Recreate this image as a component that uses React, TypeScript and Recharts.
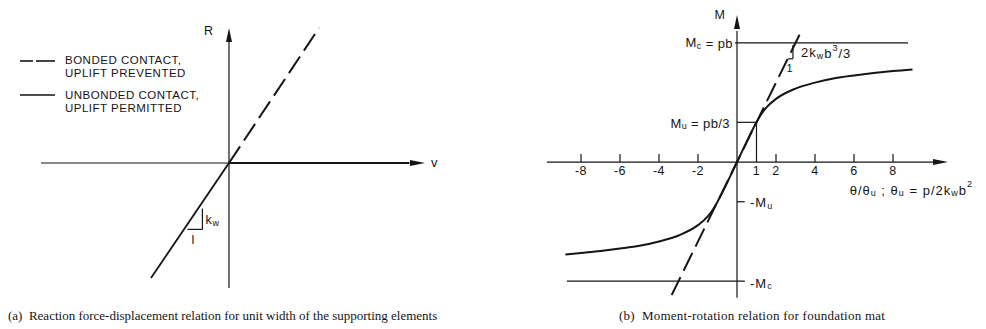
import React from 'react';
import { ComposedChart, Line, XAxis, YAxis, ReferenceLine, ReferenceDot } from 'recharts';

// (a) reaction force R vs displacement v (arbitrary units)
const bondedV = [0, 4.5];
const bondedR = [0, 6.75];
const unbondedV = [-3.9, 0, 9];
const unbondedR = [-5.75, 0, 0];

// (b) moment M/Mu vs rotation theta/theta_u
const thetaTicks = [-8, -6, -4, -2, 2, 4, 6, 8];
const thetaLabelAt = [-8, -6, -4, -2, 1, 2, 4, 6, 8];
const thetaLabels = ['-8', '-6', '-4', '-2', '1', '2', '4', '6', '8'];
const curveTheta = [-8.8, -8, -7, -6, -5, -4, -3, -2, -1.5, -1.25, -1, 0, 1, 1.25, 1.5, 2, 3, 4, 5, 6, 7, 8, 9];
const curveM = [-2.33, -2.29, -2.24, -2.18, -2.11, -2.0, -1.85, -1.59, -1.37, -1.21, -1, 0, 1, 1.21, 1.37, 1.59, 1.85, 2.0, 2.11, 2.18, 2.24, 2.29, 2.33];
const rigidTheta = [-3.35, 3.35];
const rigidM = [-3.35, 3.35];
const mC = 3;
const mU = 1;

const zip = (xs: number[], ys: number[], kx: string, ky: string) =>
  xs.map((x, i) => ({ [kx]: x, [ky]: ys[i] }));

const INK = '#151515';
const SANS = '"Liberation Sans", Arial, sans-serif';
const SERIF = '"Liberation Serif", "Times New Roman", serif';

type P = { cx?: number; cy?: number };

const arrowUp = (p: P) => {
  const cx = p.cx ?? 0, cy = p.cy ?? 0;
  return <polygon points={`${cx},${cy} ${cx - 3},${cy + 14} ${cx + 3},${cy + 14}`} fill={INK} />;
};
const arrowRight = (p: P) => {
  const cx = p.cx ?? 0, cy = p.cy ?? 0;
  return <polygon points={`${cx},${cy} ${cx - 15},${cy - 3} ${cx - 15},${cy + 3}`} fill={INK} />;
};

const label =
  (content: React.ReactNode, dx: number, dy: number, anchor = 'start', size = 12, spacing = 0.8) =>
  (p: P) => (
    <text
      x={(p.cx ?? 0) + dx}
      y={(p.cy ?? 0) + dy}
      textAnchor={anchor}
      dominantBaseline="central"
      fontFamily={SANS}
      fontSize={size}
      letterSpacing={spacing}
      fill={INK}
    >
      {content}
    </text>
  );

const sub = (main: string, s: string, rest = '') => (
  <>
    {main}
    <tspan dy={3} fontSize={9}>{s}</tspan>
    <tspan dy={-3}>{rest}</tspan>
  </>
);

const seg = (key: string, x1: number, y1: number, x2: number, y2: number, w = 1.2) => (
  <ReferenceLine
    key={key}
    segment={[{ x: x1, y: y1 }, { x: x2, y: y2 }]}
    stroke={INK}
    strokeWidth={w}
    ifOverflow="visible"
  />
);

const dot = (key: string, x: number, y: number, shape: (p: P) => React.ReactElement) => (
  <ReferenceDot key={key} x={x} y={y} r={0} ifOverflow="visible" shape={shape} />
);

function PanelA() {
  return (
    <ComposedChart width={500} height={329} margin={{ top: 3, right: 51, bottom: 6, left: 9 }}>
      <XAxis type="number" dataKey="v" domain={[-11, 11]} hide allowDataOverflow />
      <YAxis type="number" domain={[-8, 8]} hide allowDataOverflow />
      {seg('xaxis', -9.4, 0, 9.3, 0)}
      {seg('yaxis', 0, -6.25, 0, 6.2)}
      {dot('xarrow', 9.8, 0, arrowRight)}
      {dot('yarrow', 0, 6.75, arrowUp)}
      {seg('tri-v', -1.33, -3.32, -1.33, -2.27)}
      {seg('tri-h', -2.08, -3.32, -1.33, -3.32)}
      {dot('R', 0, 6.75, label('R', -20, 3, 'middle', 12.5))}
      {dot('v', 9.8, 0, label('v', 6, -1, 'start', 13))}
      {dot('kw', -1.33, -3.32, label(sub('k', 'w'), 3, -9, 'start', 12.5))}
      {dot('one', -1.33, -3.32, label('l', -9, 11, 'middle', 12.5))}
      <Line
        data={zip(bondedV, bondedR, 'v', 'R')}
        dataKey="R"
        type="linear"
        stroke={INK}
        strokeWidth={2}
        strokeDasharray="20 7"
        dot={false}
        isAnimationActive={false}
      />
      <Line
        data={zip(unbondedV, unbondedR, 'v', 'R')}
        dataKey="R"
        type="linear"
        stroke={INK}
        strokeWidth={1.8}
        dot={false}
        isAnimationActive={false}
      />
    </ComposedChart>
  );
}

function PanelB() {
  return (
    <ComposedChart width={486} height={329} margin={{ top: 3.2, right: 34.5, bottom: 28, left: 42 }}>
      <XAxis type="number" dataKey="t" domain={[-10, 11]} hide allowDataOverflow />
      <YAxis type="number" domain={[-3.5, 4]} hide allowDataOverflow />
      {seg('xaxis', -9.75, 0, 10.3, 0)}
      {seg('yaxis', 0, -3.42, 0, 3.3)}
      {dot('xarrow', 10.82, 0, arrowRight)}
      {dot('yarrow', 0, 3.7, arrowUp)}
      {thetaTicks.map((t) => seg(`tick${t}`, t, 0, t, 0.2))}
      {thetaLabelAt.map((t, i) => dot(`tl${t}`, t, 0, label(thetaLabels[i], 0, 9, 'middle', 12.5, 0.5)))}
      {seg('mc', -0.1, mC, 8.77, mC)}
      {seg('-mc', -8.72, -mC, 0.4, -mC)}
      {seg('mu', 0, mU, 1, mU)}
      {seg('mu-v', 1, 0, 1, mU)}
      {seg('-mu', 0, -mU, 0.4, -mU)}
      {seg('tri-v', 2.87, 2.6, 2.87, 2.95)}
      {seg('tri-h', 2.62, 2.6, 2.87, 2.6)}
      {dot('M', 0, 3.7, label('M', -17, 0, 'middle', 12.5))}
      {dot('Mc', 0, mC, label(sub('M', 'c', ' = pb'), -4, 0, 'end', 13, 0.4))}
      {dot('Mu', 0, mU, label(sub('M', 'u', ' = pb/3'), -7, 1, 'end', 13, 0.4))}
      {dot('-Mu', 0, -mU, label(sub('-M', 'u'), 13, 1, 'start', 13, 1))}
      {dot('-Mc', 0, -mC, label(sub('-M', 'c'), 13, 2, 'start', 13, 1))}
      {dot('slope', 2.87, 2.6, label(
        <>
          2k<tspan dy={3} fontSize={9}>w</tspan>
          <tspan dy={-3}>b</tspan>
          <tspan dy={-5} fontSize={9}>3</tspan>
          <tspan dy={5}>/3</tspan>
        </>, 8, -6, 'start', 13, 1))}
      {dot('slope1', 2.87, 2.6, label('1', -3, 9, 'middle', 11))}
      {dot('xlabel', 10.82, 0, label(
        <>
          θ/θ<tspan dy={3} fontSize={9}>u</tspan>
          <tspan dy={-3}> ; θ</tspan>
          <tspan dy={3} fontSize={9}>u</tspan>
          <tspan dy={-3}> = p/2k</tspan>
          <tspan dy={3} fontSize={9}>w</tspan>
          <tspan dy={-3}>b</tspan>
          <tspan dy={-6} fontSize={9}>2</tspan>
        </>, 25, 28, 'end', 13, 1))}
      <Line
        data={zip(rigidTheta, rigidM, 't', 'm')}
        dataKey="m"
        type="linear"
        stroke={INK}
        strokeWidth={2}
        strokeDasharray="20 7"
        dot={false}
        isAnimationActive={false}
      />
      <Line
        data={zip(curveTheta, curveM, 't', 'm')}
        dataKey="m"
        type="monotone"
        stroke={INK}
        strokeWidth={2}
        dot={false}
        isAnimationActive={false}
      />
    </ComposedChart>
  );
}

const legendText: React.CSSProperties = {
  position: 'absolute',
  left: 65,
  fontFamily: SANS,
  fontSize: 11.5,
  letterSpacing: 0.5,
  lineHeight: '13px',
  color: INK,
  whiteSpace: 'nowrap',
};

const caption: React.CSSProperties = {
  position: 'absolute',
  top: 307,
  fontFamily: SERIF,
  fontSize: 13,
  lineHeight: '17px',
  color: INK,
  whiteSpace: 'pre',
};

export default function App() {
  return (
    <div style={{ position: 'absolute', left: 0, top: 0, width: 986, height: 329, background: '#fff', overflow: 'hidden' }}>
      <div style={{ position: 'absolute', left: 0, top: 0 }}>
        <PanelA />
      </div>
      <div style={{ position: 'absolute', left: 500, top: 0 }}>
        <PanelB />
      </div>
      <svg width={60} height={120} style={{ position: 'absolute', left: 0, top: 0 }}>
        <line x1={20} y1={61} x2={33} y2={61} stroke={INK} strokeWidth={1.6} />
        <line x1={36} y1={61} x2={55} y2={61} stroke={INK} strokeWidth={1.6} />
        <line x1={20} y1={95} x2={55} y2={95} stroke={INK} strokeWidth={1.6} />
      </svg>
      <div style={{ ...legendText, top: 54 }}>BONDED CONTACT,<br />UPLIFT PREVENTED</div>
      <div style={{ ...legendText, top: 89 }}>UNBONDED CONTACT,<br />UPLIFT PERMITTED</div>
      <div style={{ ...caption, left: 8 }}>(a)  Reaction force-displacement relation for unit width of the supporting elements</div>
      <div style={{ ...caption, left: 619, letterSpacing: 0.25 }}>(b)  Moment-rotation relation for foundation mat</div>
    </div>
  );
}
